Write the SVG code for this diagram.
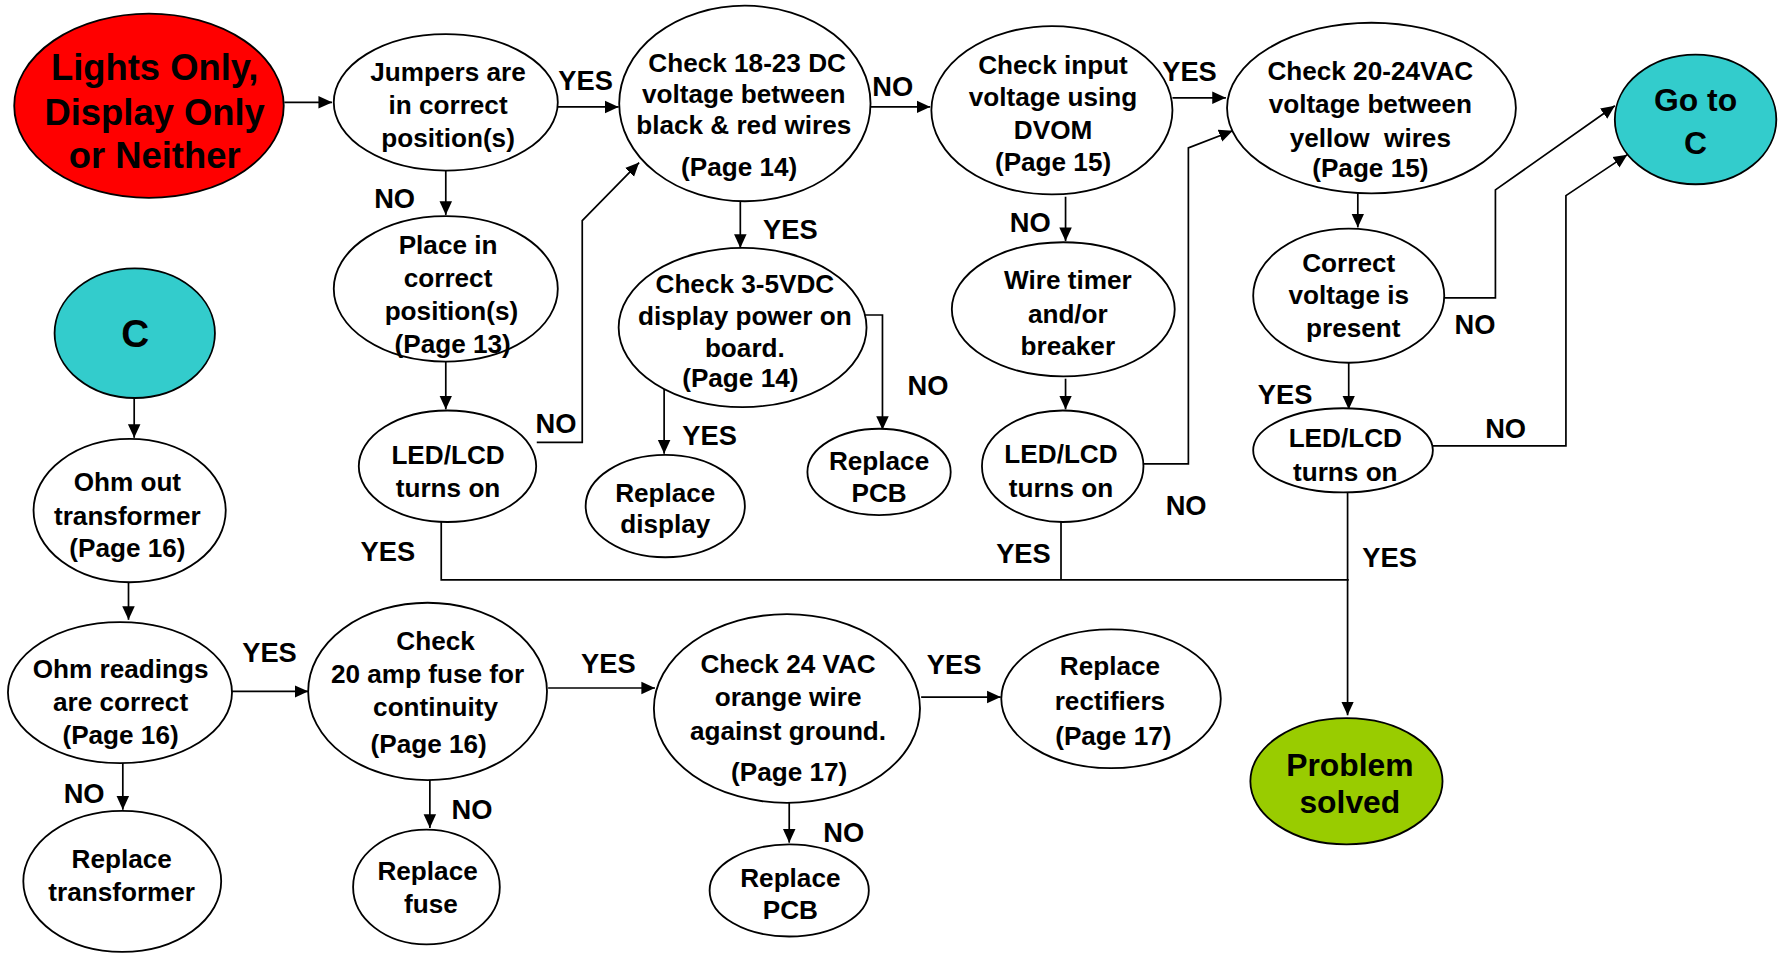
<svg xmlns="http://www.w3.org/2000/svg" width="1783" height="953" viewBox="0 0 1783 953">
<style>
.n{fill:#ffffff;stroke:#000;stroke-width:1.6}
.red{fill:#ff0000}
.teal{fill:#33cccc}
.green{fill:#99cc00}
text{font-family:"Liberation Sans",Arial,sans-serif;font-weight:bold;fill:#000;text-anchor:middle}
.t{font-size:23px}
.lb{font-size:24px;text-anchor:start}
.big{font-size:32px}
.c{fill:none;stroke:#000;stroke-width:1.5;marker-end:url(#ah)}
.l{fill:none;stroke:#000;stroke-width:1.5}
</style>
<defs>
<marker id="ah" viewBox="0 0 12 12" refX="12" refY="6" markerWidth="12" markerHeight="12" markerUnits="userSpaceOnUse" orient="auto">
<path d="M0,0.5 L12,6 L0,11.5 z" fill="#000"/>
</marker>
</defs>
<rect width="1783" height="953" fill="#fff"/>
<g transform="scale(1.1372)">
<g id="connectors">
<path class="c" d="M250,90 H292"/>
<path class="c" d="M490,94 H544"/>
<path class="c" d="M765,94 H818"/>
<path class="c" d="M1031,86 H1078"/>
<path class="c" d="M392,150 V189"/>
<path class="c" d="M392,318 V360"/>
<path class="c" d="M472,389 H512 V194 L562,143"/>
<path class="l" d="M388,459 V510 H1186"/>
<path class="l" d="M933,459 V510"/>
<path class="c" d="M1185,433 V629"/>
<path class="c" d="M651,177 V218"/>
<path class="c" d="M760,277 H776 V378"/>
<path class="c" d="M584,342 V399"/>
<path class="c" d="M937,173 V212"/>
<path class="c" d="M937,333 V360"/>
<path class="c" d="M1005,408 H1045 V130 L1084,115"/>
<path class="c" d="M1194,170 V200"/>
<path class="c" d="M1270,262 H1315 V167 L1420,93"/>
<path class="c" d="M1186,319 V360"/>
<path class="c" d="M1260,392 H1377 V172 L1431,136"/>
<path class="c" d="M118,350 V385"/>
<path class="c" d="M113,512 V545"/>
<path class="c" d="M108,671 V712"/>
<path class="c" d="M204,608 H271"/>
<path class="c" d="M378,686 V728"/>
<path class="c" d="M482,605 H576"/>
<path class="c" d="M810,613 H880"/>
<path class="c" d="M694,706 V741"/>
<text class="lb" x="491" y="79">YES</text>
<text class="lb" x="767" y="84">NO</text>
<text class="lb" x="1022" y="71">YES</text>
<text class="lb" x="329" y="183">NO</text>
<text class="lb" x="471" y="381">NO</text>
<text class="lb" x="317" y="493">YES</text>
<text class="lb" x="671" y="210">YES</text>
<text class="lb" x="798" y="347">NO</text>
<text class="lb" x="600" y="391">YES</text>
<text class="lb" x="888" y="204">NO</text>
<text class="lb" x="1025" y="453">NO</text>
<text class="lb" x="876" y="495">YES</text>
<text class="lb" x="1279" y="294">NO</text>
<text class="lb" x="1106" y="355">YES</text>
<text class="lb" x="1306" y="385">NO</text>
<text class="lb" x="1198" y="499">YES</text>
<text class="lb" x="213" y="582">YES</text>
<text class="lb" x="56" y="706">NO</text>
<text class="lb" x="397" y="720">NO</text>
<text class="lb" x="511" y="592">YES</text>
<text class="lb" x="815" y="593">YES</text>
<text class="lb" x="724" y="740">NO</text>
</g>
<g id="n-start">
<ellipse class="n red" cx="131" cy="93" rx="118.5" ry="81"/>
<text class="big" x="136" y="70">Lights Only,</text>
<text class="big" x="136" y="110">Display Only</text>
<text class="big" x="136" y="148">or Neither</text>
</g>
<g id="n-jumpers">
<ellipse class="n" cx="392" cy="90" rx="98.5" ry="60"/>
<text class="t" x="394" y="71">Jumpers are</text>
<text class="t" x="394" y="100">in correct</text>
<text class="t" x="394" y="129">position(s)</text>
</g>
<g id="n-place">
<ellipse class="n" cx="392" cy="254" rx="98.5" ry="64"/>
<text class="t" x="394" y="223">Place in</text>
<text class="t" x="394" y="252">correct</text>
<text class="t" x="397" y="281">position(s)</text>
<text class="t" x="398" y="310">(Page 13)</text>
</g>
<g id="n-led1">
<ellipse class="n" cx="393.5" cy="410" rx="78" ry="49"/>
<text class="t" x="394" y="408">LED/LCD</text>
<text class="t" x="394" y="437">turns on</text>
</g>
<g id="n-check1823">
<ellipse class="n" cx="655" cy="91" rx="110.5" ry="86"/>
<text class="t" x="657" y="63">Check 18-23 DC</text>
<text class="t" x="654" y="91">voltage between</text>
<text class="t" x="654" y="118">black &amp; red wires</text>
<text class="t" x="650" y="155">(Page 14)</text>
</g>
<g id="n-check35">
<ellipse class="n" cx="653" cy="288" rx="109" ry="70"/>
<text class="t" x="655" y="258">Check 3-5VDC</text>
<text class="t" x="655" y="286">display power on</text>
<text class="t" x="655" y="314">board.</text>
<text class="t" x="651" y="340">(Page 14)</text>
</g>
<g id="n-replace-display">
<ellipse class="n" cx="585" cy="445" rx="70" ry="45"/>
<text class="t" x="585" y="441">Replace</text>
<text class="t" x="585" y="469">display</text>
</g>
<g id="n-replace-pcb1">
<ellipse class="n" cx="773" cy="415" rx="63" ry="38"/>
<text class="t" x="773" y="413">Replace</text>
<text class="t" x="773" y="441">PCB</text>
</g>
<g id="n-input">
<ellipse class="n" cx="925" cy="97" rx="106" ry="74"/>
<text class="t" x="926" y="65">Check input</text>
<text class="t" x="926" y="93">voltage using</text>
<text class="t" x="926" y="122">DVOM</text>
<text class="t" x="926" y="150">(Page 15)</text>
</g>
<g id="n-wire">
<ellipse class="n" cx="935" cy="272" rx="98" ry="59"/>
<text class="t" x="939" y="254">Wire timer</text>
<text class="t" x="939" y="284">and/or</text>
<text class="t" x="939" y="312">breaker</text>
</g>
<g id="n-led2">
<ellipse class="n" cx="934.5" cy="410" rx="71" ry="49"/>
<text class="t" x="933" y="407">LED/LCD</text>
<text class="t" x="933" y="437">turns on</text>
</g>
<g id="n-check2024">
<ellipse class="n" cx="1206" cy="95" rx="127" ry="75"/>
<text class="t" x="1205" y="70">Check 20-24VAC</text>
<text class="t" x="1205" y="99">voltage between</text>
<text class="t" x="1205" y="129" xml:space="preserve">yellow  wires</text>
<text class="t" x="1205" y="156">(Page 15)</text>
</g>
<g id="n-goto">
<ellipse class="n teal" cx="1491" cy="105" rx="71" ry="57"/>
<text x="1491" y="98" style="font-size:28px">Go to</text>
<text x="1491" y="135" style="font-size:28px">C</text>
</g>
<g id="n-correct">
<ellipse class="n" cx="1186" cy="260" rx="84" ry="59"/>
<text class="t" x="1186" y="239">Correct</text>
<text class="t" x="1186" y="267">voltage is</text>
<text class="t" x="1190" y="296">present</text>
</g>
<g id="n-led3">
<ellipse class="n" cx="1181" cy="396" rx="79" ry="37"/>
<text class="t" x="1183" y="393">LED/LCD</text>
<text class="t" x="1183" y="423">turns on</text>
</g>
<g id="n-solved">
<ellipse class="n green" cx="1184" cy="687" rx="84.5" ry="55.5"/>
<text x="1187" y="682" style="font-size:28px">Problem</text>
<text x="1187" y="715" style="font-size:28px">solved</text>
</g>
<g id="n-c">
<ellipse class="n teal" cx="118.5" cy="293" rx="70.5" ry="57"/>
<text x="119" y="305" style="font-size:34px">C</text>
</g>
<g id="n-ohmout">
<ellipse class="n" cx="114" cy="449" rx="84.5" ry="63"/>
<text class="t" x="112" y="432">Ohm out</text>
<text class="t" x="112" y="462">transformer</text>
<text class="t" x="112" y="490">(Page 16)</text>
</g>
<g id="n-ohmread">
<ellipse class="n" cx="105.5" cy="609" rx="98.5" ry="62"/>
<text class="t" x="106" y="596">Ohm readings</text>
<text class="t" x="106" y="625">are correct</text>
<text class="t" x="106" y="654">(Page 16)</text>
</g>
<g id="n-replace-transformer">
<ellipse class="n" cx="107.5" cy="775" rx="87" ry="62"/>
<text class="t" x="107" y="763">Replace</text>
<text class="t" x="107" y="792">transformer</text>
</g>
<g id="n-fuse">
<ellipse class="n" cx="376" cy="608" rx="105" ry="78"/>
<text class="t" x="383" y="572">Check</text>
<text class="t" x="376" y="601">20 amp fuse for</text>
<text class="t" x="383" y="630">continuity</text>
<text class="t" x="377" y="662">(Page 16)</text>
</g>
<g id="n-replace-fuse">
<ellipse class="n" cx="375" cy="780" rx="64.5" ry="50.5"/>
<text class="t" x="376" y="774">Replace</text>
<text class="t" x="379" y="803">fuse</text>
</g>
<g id="n-check24">
<ellipse class="n" cx="692" cy="623" rx="117" ry="83"/>
<text class="t" x="693" y="592">Check 24 VAC</text>
<text class="t" x="693" y="621">orange wire</text>
<text class="t" x="693" y="651">against ground.</text>
<text class="t" x="694" y="687">(Page 17)</text>
</g>
<g id="n-rectifiers">
<ellipse class="n" cx="977" cy="614.5" rx="96.5" ry="61"/>
<text class="t" x="976" y="594">Replace</text>
<text class="t" x="976" y="624">rectifiers</text>
<text class="t" x="979" y="655">(Page 17)</text>
</g>
<g id="n-replace-pcb2">
<ellipse class="n" cx="694" cy="783" rx="70" ry="40.5"/>
<text class="t" x="695" y="780">Replace</text>
<text class="t" x="695" y="808">PCB</text>
</g>
</g>
</svg>
